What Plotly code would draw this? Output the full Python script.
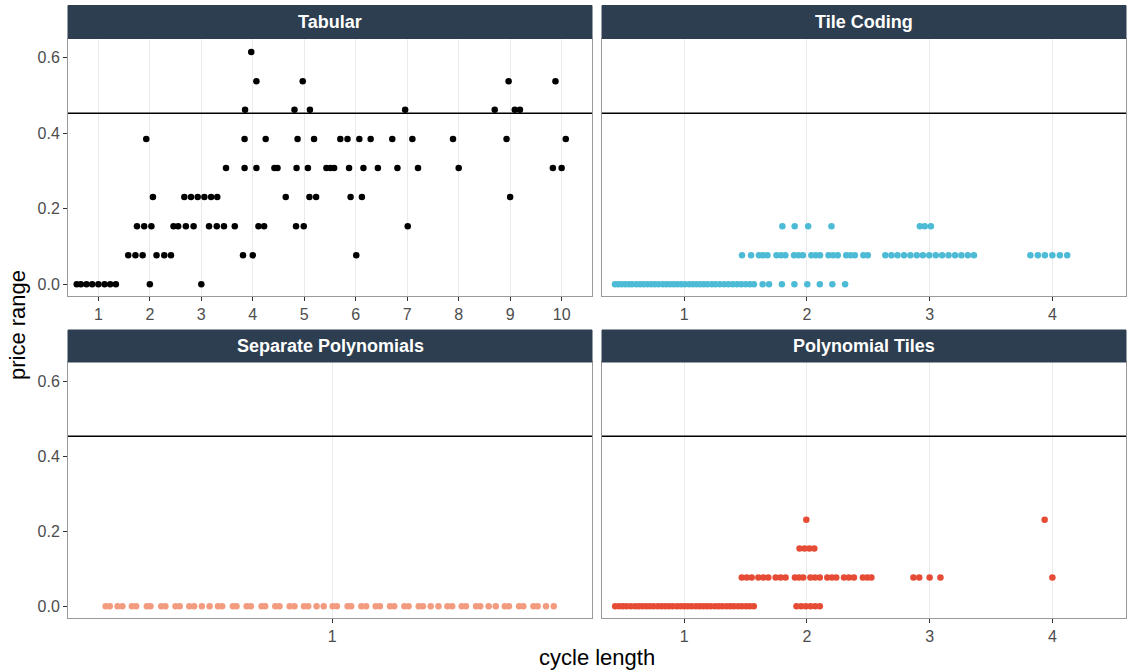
import plotly.graph_objects as go

# ---------------- data (cycle length values per price level) ----------------
price_ticks = [0.0, 0.2, 0.4, 0.6]
threshold = 0.453

tabular = {
    0.0: [0.58, 0.66, 0.77, 0.88, 1.0, 1.12, 1.23, 1.34, 2.0, 3.0],
    0.077: [1.58, 1.72, 1.86, 2.13, 2.28, 2.41, 3.81, 4.0, 6.01],
    0.154: [1.75, 1.89, 2.03, 2.46, 2.55, 2.70, 2.85, 3.15, 3.30, 3.44, 3.65,
            4.11, 4.22, 4.84, 4.99, 7.01],
    0.231: [2.06, 2.67, 2.80, 2.93, 3.06, 3.19, 3.31, 4.64, 5.10, 5.23, 5.90,
            6.12, 9.0],
    0.308: [3.48, 3.84, 4.07, 4.42, 4.48, 4.85, 5.07, 5.43, 5.51, 5.58, 5.87,
            6.15, 6.43, 6.81, 7.21, 8.0, 9.83, 10.0],
    0.385: [1.93, 3.84, 4.25, 4.87, 5.19, 5.70, 5.84, 6.07, 6.29, 6.71, 7.10,
            7.89, 8.93, 10.08],
    0.462: [3.85, 4.81, 5.11, 6.96, 8.70, 9.09, 9.19],
    0.538: [4.07, 4.97, 8.97, 9.88],
    0.615: [3.97],
}

tile_coding = {
    0.0: [0.436, 0.462, 0.49, 0.52, 0.55, 0.575, 0.61, 0.64, 0.67, 0.70, 0.73,
          0.76, 0.79, 0.825, 0.855, 0.885, 0.915, 0.945, 0.975, 1.005, 1.04,
          1.07, 1.10, 1.13, 1.16, 1.19, 1.225, 1.255, 1.29, 1.325, 1.36, 1.395,
          1.43, 1.465, 1.50, 1.535, 1.568, 1.639, 1.691, 1.796, 1.898, 2.003,
          2.105, 2.207, 2.311],
    0.077: [1.471, 1.545, 1.609, 1.642, 1.678, 1.752, 1.788, 1.824, 1.895,
            1.931, 1.967, 2.036, 2.072, 2.107, 2.176, 2.212, 2.251, 2.320,
            2.355, 2.391, 2.460, 2.496, 2.639, 2.689, 2.738, 2.791, 2.843,
            2.895, 2.945, 2.997, 3.050, 3.102, 3.154, 3.207, 3.259, 3.311,
            3.361, 3.821, 3.882, 3.939, 4.000, 4.061, 4.121],
    0.154: [1.80, 1.90, 2.01, 2.20, 2.92, 2.96, 3.01],
}

separate_polynomials = {
    0.0: [0.621, 0.628, 0.641, 0.649, 0.665, 0.672, 0.690, 0.696, 0.714, 0.721,
          0.738, 0.745, 0.761, 0.769, 0.782, 0.795, 0.809, 0.816, 0.834, 0.840,
          0.857, 0.864, 0.882, 0.888, 0.905, 0.912, 0.929, 0.937, 0.953, 0.960,
          0.974, 0.986, 1.001, 1.008, 1.026, 1.032, 1.049, 1.057, 1.073, 1.080,
          1.097, 1.104, 1.121, 1.128, 1.145, 1.152, 1.165, 1.178, 1.193, 1.201,
          1.217, 1.224, 1.241, 1.248, 1.262, 1.274, 1.289, 1.296, 1.313, 1.320,
          1.337, 1.344, 1.358, 1.371],
}

polynomial_tiles = {
    0.0: [0.437, 0.47, 0.50, 0.53, 0.565, 0.60, 0.63, 0.66, 0.69, 0.72, 0.75,
          0.785, 0.815, 0.845, 0.875, 0.905, 0.94, 0.97, 1.0, 1.03, 1.06,
          1.095, 1.125, 1.155, 1.185, 1.215, 1.25, 1.28, 1.31, 1.345, 1.375,
          1.405, 1.44, 1.47, 1.505, 1.535, 1.567, 1.915, 1.953, 1.991, 2.029,
          2.067, 2.105],
    0.077: [1.469, 1.509, 1.550, 1.604, 1.645, 1.685, 1.745, 1.785, 1.826,
            1.902, 1.935, 1.969, 2.028, 2.066, 2.105, 2.166, 2.203, 2.239,
            2.302, 2.342, 2.383, 2.456, 2.492, 2.525, 2.868, 2.915, 3.000,
            3.088, 4.000],
    0.154: [1.94, 1.98, 2.02, 2.06],
    0.231: [1.995, 3.937],
}

panel_titles = ["Tabular", "Tile Coding", "Separate Polynomials", "Polynomial Tiles"]
panel_data = [tabular, tile_coding, separate_polynomials, polynomial_tiles]
panel_colors = ["#000000", "#4DBBD5", "#F39B7F", "#E64B35"]
x_ranges = [[0.41, 10.59], [0.33, 4.60], [0.558, 1.435], [0.33, 4.60]]
x_ticks = [list(range(1, 11)), [1, 2, 3, 4], [1], [1, 2, 3, 4]]
y_range = [-0.031, 0.651]

# ---------------- layout geometry ----------------
W, H = 1130, 672
col_x = [(68 / W, 592 / W), (602 / W, 1126 / W)]
row_y = [(1 - 296 / H, 1 - 38.5 / H), (1 - 618 / H, 1 - 362 / H)]
strip_h = [33 / H, 32 / H]

FONT = "Liberation Sans, Arial, sans-serif"
fig = go.Figure()
layout = dict(
    width=W, height=H, margin=dict(l=0, r=0, t=0, b=0),
    paper_bgcolor="white", plot_bgcolor="white", showlegend=False,
    font=dict(family=FONT),
)
shapes, annotations = [], []

for i in range(4):
    r, c = divmod(i, 2)
    n = i + 1
    xa = "x" if n == 1 else f"x{n}"
    ya = "y" if n == 1 else f"y{n}"
    xs, ys = [], []
    for level, vals in panel_data[i].items():
        xs += vals
        ys += [level] * len(vals)
    fig.add_trace(go.Scatter(
        x=xs, y=ys, mode="markers", xaxis=xa, yaxis=ya,
        marker=dict(size=6.5, color=panel_colors[i], line=dict(width=0)),
        hoverinfo="x+y",
    ))
    axis_common = dict(
        showline=True, mirror=True, linecolor="#9A9A9A", linewidth=1,
        ticks="outside", ticklen=4, tickcolor="#333333", tickwidth=1,
        tickfont=dict(size=16, color="#4D4D4D", family=FONT), zeroline=False,
    )
    layout["xaxis" if n == 1 else f"xaxis{n}"] = dict(
        axis_common, domain=list(col_x[c]), anchor=ya, range=x_ranges[i],
        tickvals=x_ticks[i], showgrid=True, gridcolor="#EBEBEB", gridwidth=1,
    )
    yax = dict(
        axis_common, domain=list(row_y[r]), anchor=xa, range=y_range,
        tickvals=price_ticks, tickformat=".1f", showgrid=False,
        showticklabels=(c == 0),
    )
    if c == 1:
        yax["ticks"] = ""
    layout["yaxis" if n == 1 else f"yaxis{n}"] = yax
    # threshold line
    shapes.append(dict(type="line", xref=f"{xa} domain", x0=0, x1=1,
                       yref=ya, y0=threshold, y1=threshold,
                       line=dict(color="black", width=1.4), layer="above"))
    # strip
    y0s = row_y[r][1]
    shapes.append(dict(type="rect", xref="paper", yref="paper",
                       x0=col_x[c][0], x1=col_x[c][1], y0=y0s, y1=y0s + strip_h[r],
                       fillcolor="#2C3E50", line=dict(color="#2C3E50", width=1),
                       layer="above"))
    annotations.append(dict(text=f"<b>{panel_titles[i]}</b>", xref="paper", yref="paper",
                            x=(col_x[c][0] + col_x[c][1]) / 2, y=y0s + strip_h[r] / 2,
                            xanchor="center", yanchor="middle", showarrow=False,
                            font=dict(size=18, color="white", family=FONT)))

annotations.append(dict(text="cycle length", xref="paper", yref="paper",
                        x=(68 / W + 1126 / W) / 2, y=1 - 657 / H, xanchor="center",
                        yanchor="middle", showarrow=False,
                        font=dict(size=22, color="black", family=FONT)))
annotations.append(dict(text="price range", xref="paper", yref="paper",
                        x=18 / W, y=1 - 325 / H, xanchor="center", yanchor="middle",
                        textangle=-90, showarrow=False,
                        font=dict(size=22, color="black", family=FONT)))

layout["shapes"] = shapes
layout["annotations"] = annotations
fig.update_layout(**layout)
fig.write_html("out.html")
